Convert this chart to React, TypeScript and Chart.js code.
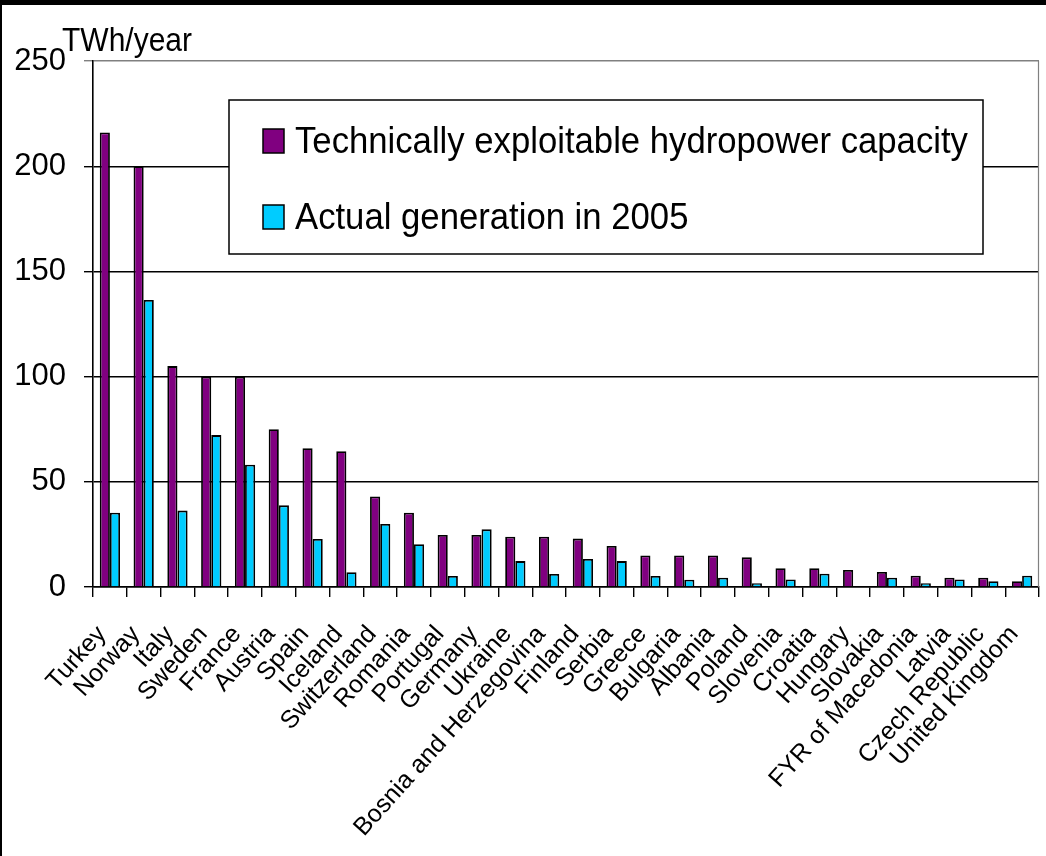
import React, { useEffect, useRef } from "react";
import { Chart, registerables } from "chart.js";

Chart.register(...registerables);

const countries = [
  "Turkey", "Norway", "Italy", "Sweden", "France", "Austria", "Spain", "Iceland",
  "Switzerland", "Romania", "Portugal", "Germany", "Ukraine", "Bosnia and Herzegovina",
  "Finland", "Serbia", "Greece", "Bulgaria", "Albania", "Poland", "Slovenia", "Croatia",
  "Hungary", "Slovakia", "FYR of Macedonia", "Latvia", "Czech Republic", "United Kingdom",
];

const exploitable = [
  216, 200, 105, 100, 100, 75, 66, 64.5, 43, 35.3, 24.7, 24.7, 23.9, 23.9,
  23, 19.5, 15, 15, 15, 14.1, 8.9, 8.9, 8.1, 7.1, 5.4, 4.4, 4.4, 2.7,
];

const generation2005 = [
  35.3, 136.4, 36.3, 72.2, 58.1, 38.8, 22.8, 7, 30, 20.3, 5.2, 27.4, 12.3, 6.2,
  13.3, 12.3, 5.2, 3.5, 4.4, 1.8, 3.6, 6.3, 0, 4.4, 1.8, 3.6, 2.7, 5.4,
];

const seriesLabels = ["Technically exploitable hydropower capacity", "Actual generation in 2005"];
const seriesColors = ["#800080", "#00CCFF"];
const unitLabel = "TWh/year";

const FONT = "'Liberation Sans', Arial, sans-serif";

const decorPlugin = {
  id: "decor",
  beforeDraw(chart: any) {
    const ctx = chart.ctx;
    ctx.save();
    ctx.fillStyle = "#ffffff";
    ctx.fillRect(0, 0, chart.width, chart.height);
    ctx.restore();
  },
  afterDraw(chart: any) {
    const ctx = chart.ctx;
    const a = chart.chartArea;
    ctx.save();
    // right border of plot area
    ctx.strokeStyle = "#808080";
    ctx.lineWidth = 1.2;
    ctx.beginPath();
    ctx.moveTo(a.right - 0.5, a.top);
    ctx.lineTo(a.right - 0.5, a.bottom);
    ctx.stroke();

    // unit label (slightly tall, as in the original)
    ctx.fillStyle = "#000";
    ctx.font = `30px ${FONT}`;
    ctx.textAlign = "left";
    ctx.textBaseline = "alphabetic";
    ctx.save();
    ctx.translate(62, 51);
    ctx.scale(1, 1.08);
    ctx.fillText(unitLabel, 0, 0);
    ctx.restore();

    // legend box
    const bx = 229, by = 100, bw = 754, bh = 154;
    ctx.fillStyle = "#fff";
    ctx.fillRect(bx, by, bw, bh);
    ctx.strokeStyle = "#000";
    ctx.lineWidth = 1.5;
    ctx.strokeRect(bx, by, bw, bh);

    const rows = [
      { sy: 129, base: 153 },
      { sy: 205, base: 229 },
    ];
    ctx.font = `34.7px ${FONT}`;
    rows.forEach((r, i) => {
      ctx.fillStyle = seriesColors[i];
      ctx.fillRect(263, r.sy, 21, 24);
      ctx.strokeStyle = "#000";
      ctx.lineWidth = 1.5;
      ctx.strokeRect(263, r.sy, 21, 24);
      ctx.fillStyle = "#000";
      ctx.save();
      ctx.translate(295, r.base);
      ctx.scale(1, 1.08);
      ctx.fillText(seriesLabels[i], 0, 0);
      ctx.restore();
    });

    // black frame (top and left)
    ctx.fillStyle = "#000";
    ctx.fillRect(0, 0, chart.width, 5);
    ctx.fillRect(0, 0, 2, chart.height);
    ctx.restore();
  },
};

export default function App() {
  const ref = useRef<HTMLCanvasElement>(null);

  useEffect(() => {
    if (!ref.current) return;
    const chart = new Chart(ref.current, {
      type: "bar",
      data: {
        labels: countries,
        datasets: [
          {
            label: seriesLabels[0],
            data: exploitable,
            backgroundColor: seriesColors[0],
            borderColor: "#000",
            borderWidth: 1.8,
            categoryPercentage: 0.6,
            barPercentage: 1.0,
          },
          {
            label: seriesLabels[1],
            data: generation2005,
            backgroundColor: seriesColors[1],
            borderColor: "#000",
            borderWidth: 1.8,
            categoryPercentage: 0.6,
            barPercentage: 1.0,
          },
        ],
      },
      options: {
        responsive: false,
        animation: false,
        layout: { padding: { left: 0, top: 61, right: 7, bottom: 0 } },
        plugins: {
          legend: { display: false },
          tooltip: { enabled: false },
        },
        scales: {
          x: {
            grid: {
              offset: true,
              drawOnChartArea: false,
              drawTicks: true,
              tickLength: 10,
              color: "#000",
              lineWidth: 1.4,
            },
            border: { color: "#000", width: 1.6 },
            ticks: {
              autoSkip: false,
              minRotation: 48,
              maxRotation: 48,
              color: "#000",
              padding: 23,
              labelOffset: -8,
              font: { family: FONT, size: 25 },
            },
            afterFit(scale: any) {
              scale.height = 269;
              scale.paddingLeft = 0;
              scale.paddingRight = 0;
            },
          },
          y: {
            min: 0,
            max: 250,
            ticks: {
              stepSize: 50,
              color: "#000",
              padding: 18,
              font: { family: FONT, size: 31 },
            },
            grid: {
              color: (c: any) => (c.tick && c.tick.value === 250 ? "#808080" : "#000"),
              lineWidth: 1.4,
              tickLength: 9,
            },
            border: { color: "#000", width: 1.6 },
            afterFit(scale: any) {
              scale.width = 93;
              scale.paddingTop = 0;
              scale.paddingBottom = 0;
            },
          },
        },
      },
      plugins: [decorPlugin],
    });
    return () => chart.destroy();
  }, []);

  return (
    <div style={{ position: "fixed", left: 0, top: 0, width: 1046, height: 856, background: "#fff" }}>
      <canvas ref={ref} width={1046} height={856} style={{ display: "block" }} />
    </div>
  );
}
